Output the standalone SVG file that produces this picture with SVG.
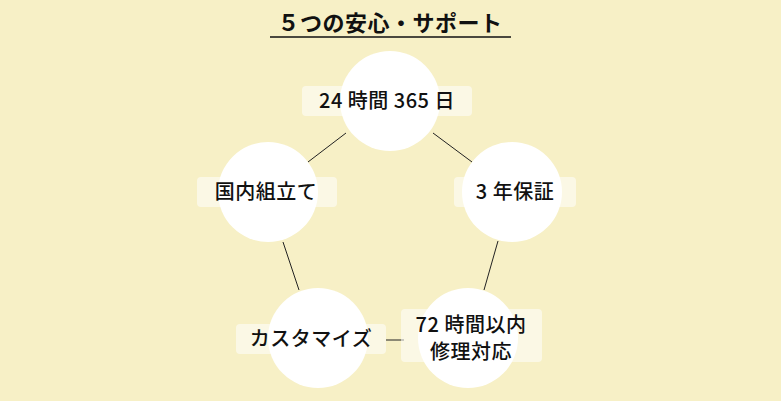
<svg xmlns="http://www.w3.org/2000/svg" width="781" height="401" viewBox="0 0 781 401">
<style>
.c{fill:#fff}
.b{fill:#fff;fill-opacity:0.55}
.t{font-family:"Noto Sans CJK JP","Noto Sans",sans-serif;font-size:20px;font-weight:500;fill:#111;text-anchor:middle;letter-spacing:0.5px}
.l{stroke:#222;stroke-width:1}
</style>
<rect width="781" height="401" fill="#f7f0c6"/>
<text x="390" y="31" class="t" style="font-weight:bold;font-size:22px">５つの安心・サポート</text>
<line x1="270" y1="37" x2="511" y2="37" stroke="#111" stroke-width="1.5"/>
<g id="connectors">
<line class="l" x1="308" y1="162" x2="346" y2="133"/>
<line class="l" x1="433" y1="133" x2="472" y2="162"/>
<line class="l" x1="498" y1="241" x2="484" y2="290"/>
<line class="l" x1="283" y1="242" x2="299" y2="290"/>
<line class="l" x1="386" y1="340" x2="404" y2="340"/>
</g>
<g id="n1"><circle class="c" cx="390" cy="101" r="50"/><rect class="b" x="302" y="86" width="170" height="30" rx="4"/><text class="t" x="387" y="108">24 時間 365 日</text></g>
<g id="n2"><circle class="c" cx="512" cy="192" r="50"/><rect class="b" x="454" y="177" width="122" height="30" rx="4"/><text class="t" x="515" y="199">3 年保証</text></g>
<g id="n3"><circle class="c" cx="468" cy="338" r="50"/><rect class="b" x="401" y="309" width="141" height="53" rx="4"/><text class="t" x="471" y="332">72 時間以内</text><text class="t" x="471" y="359">修理対応</text></g>
<g id="n4"><circle class="c" cx="318" cy="338" r="50"/><rect class="b" x="236" y="324" width="150" height="30" rx="4"/><text class="t" x="311" y="346">カスタマイズ</text></g>
<g id="n5"><circle class="c" cx="268" cy="192" r="50"/><rect class="b" x="197" y="177" width="140" height="30" rx="4"/><text class="t" x="266" y="199">国内組立て</text></g>
</svg>
